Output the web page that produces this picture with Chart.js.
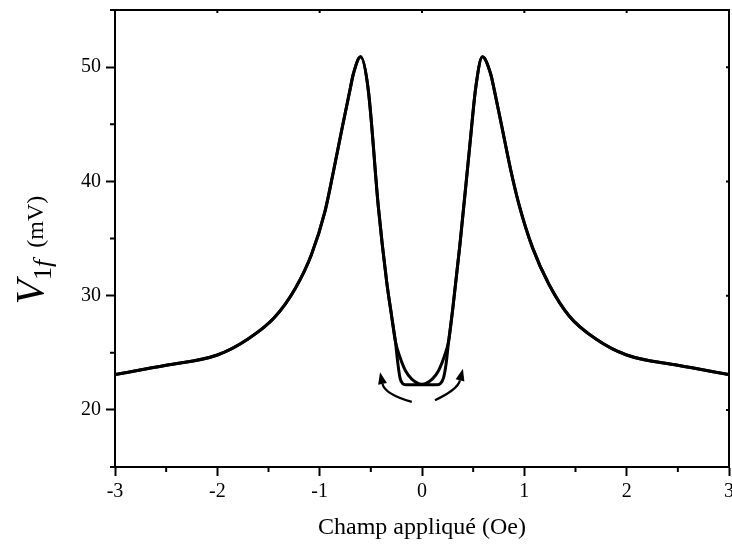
<!DOCTYPE html>
<html>
<head>
<meta charset="utf-8">
<script src="https://cdn.jsdelivr.net/npm/chart.js@4.4.1/dist/chart.umd.min.js"></script>
<style>
  html, body { margin: 0; padding: 0; background: #fff; }
  canvas { display: block; }
</style>
</head>
<body>
<canvas id="chart" width="732" height="554"></canvas>
<script>
// flanc gauche, commun aux deux branches
const leftX = [-3, -2.5, -2, -1.7, -1.44, -1.24, -1.08, -0.95, -0.867, -0.78, -0.704, -0.671, -0.6, -0.525, -0.427, -0.345, -0.3];
const leftY = [23.1, 23.9, 24.8, 26.2, 28.1, 30.6, 33.6, 37.3, 40.8, 44.7, 48.0, 49.4, 50.9, 48.0, 37.8, 31.2, 28.4];
// centre : branche a fond plat
const flatX = [-0.26, -0.235, -0.215, -0.19, -0.16, 0, 0.15, 0.18, 0.21, 0.235, 0.26];
const flatY = [26.0, 24.0, 22.8, 22.3, 22.2, 22.2, 22.2, 22.3, 22.8, 24.0, 26.0];
// centre : branche en V
const vX = [-0.26, -0.215, -0.16, -0.1, 0, 0.1, 0.16, 0.215, 0.26];
const vY = [26.0, 24.6, 23.4, 22.7, 22.25, 22.7, 23.4, 24.6, 26.0];
// flanc droit, commun aux deux branches
const rightX = [0.3, 0.371, 0.469, 0.525, 0.59, 0.671, 0.704, 0.78, 0.867, 0.95, 1.08, 1.24, 1.44, 1.7, 2, 2.5, 3];
const rightY = [28.8, 34.5, 43.3, 48.2, 50.9, 49.4, 48.1, 44.8, 41.0, 37.9, 34.2, 31.0, 28.2, 26.2, 24.8, 23.9, 23.1];

const xMajor = [-3, -2, -1, 0, 1, 2, 3];
const xMinor = [-2.5, -1.5, -0.5, 0.5, 1.5, 2.5];
const yMajor = [20, 30, 40, 50];
const yMinor = [15, 25, 35, 45, 55];

// fleches (depart, controle, pointe) en unites de donnees
const arrows = [
  [[-0.10, 20.7], [-0.365, 21.4], [-0.41, 23.3]],
  [[0.127, 20.85], [0.3485, 21.775], [0.40, 23.6]]
];

const toPoints = (xs, ys) => xs.map((x, i) => ({ x, y: ys[i] }));
const branchFlat = [...toPoints(leftX, leftY), ...toPoints(flatX, flatY), ...toPoints(rightX, rightY)];
const branchV = [...toPoints(leftX, leftY), ...toPoints(vX, vY), ...toPoints(rightX, rightY)];

const serif = 'Liberation Serif';

const extras = {
  id: 'extras',
  afterDatasetsDraw(chart) {
    const { ctx, scales: { x, y } } = chart;
    ctx.save();
    ctx.strokeStyle = '#000';
    ctx.fillStyle = '#000';
    ctx.lineWidth = 2.2;
    arrows.forEach(([t, c, h]) => {
      const p0 = [x.getPixelForValue(t[0]), y.getPixelForValue(t[1])];
      const p1 = [x.getPixelForValue(c[0]), y.getPixelForValue(c[1])];
      const p2 = [x.getPixelForValue(h[0]), y.getPixelForValue(h[1])];
      const ang = Math.atan2(p2[1] - p1[1], p2[0] - p1[0]);
      const len = 12, wid = 4.5;
      const bx = p2[0] - len * Math.cos(ang), by = p2[1] - len * Math.sin(ang);
      ctx.beginPath();
      ctx.moveTo(p0[0], p0[1]);
      ctx.quadraticCurveTo(p1[0], p1[1], bx, by);
      ctx.stroke();
      ctx.beginPath();
      ctx.moveTo(p2[0], p2[1]);
      ctx.lineTo(bx + wid * Math.sin(ang), by - wid * Math.cos(ang));
      ctx.lineTo(bx - wid * Math.sin(ang), by + wid * Math.cos(ang));
      ctx.closePath();
      ctx.fill();
    });
    ctx.restore();
  },
  afterDraw(chart) {
    const { ctx, chartArea: a, scales: { x, y } } = chart;
    ctx.save();
    ctx.strokeStyle = '#000';
    ctx.lineWidth = 2;
    ctx.beginPath();
    ctx.moveTo(a.left, a.top);
    ctx.lineTo(a.right, a.top);
    ctx.lineTo(a.right, a.bottom);
    // ticks mineurs
    xMinor.forEach(v => {
      const px = x.getPixelForValue(v);
      ctx.moveTo(px, a.bottom); ctx.lineTo(px, a.bottom + 5);
    });
    yMinor.forEach(v => {
      const py = y.getPixelForValue(v);
      ctx.moveTo(a.left, py); ctx.lineTo(a.left - 5, py);
    });
    // petits ticks interieurs haut / droite
    xMajor.forEach(v => {
      const px = x.getPixelForValue(v);
      ctx.moveTo(px, a.top); ctx.lineTo(px, a.top + 3);
    });
    yMajor.forEach(v => {
      const py = y.getPixelForValue(v);
      ctx.moveTo(a.right, py); ctx.lineTo(a.right - 3, py);
    });
    ctx.stroke();

    // titre de l'axe y : V_1f (mV)
    ctx.translate(43, 250);
    ctx.rotate(-Math.PI / 2);
    ctx.fillStyle = '#000';
    ctx.textBaseline = 'alphabetic';
    const parts = [
      { t: 'V', f: 'italic 40px ' + serif, dy: 0 },
      { t: '1', f: '26px ' + serif, dy: 8 },
      { t: 'f', f: 'italic 26px ' + serif, dy: 8 },
      { t: '  (mV)', f: '24px ' + serif, dy: 0 }
    ];
    let total = 0;
    parts.forEach(p => { ctx.font = p.f; p.w = ctx.measureText(p.t).width; total += p.w; });
    let cx = -total / 2;
    parts.forEach(p => { ctx.font = p.f; ctx.fillText(p.t, cx, p.dy); cx += p.w; });
    ctx.restore();
  }
};

new Chart(document.getElementById('chart'), {
  type: 'line',
  data: {
    datasets: [
      { data: branchFlat, borderColor: '#000', borderWidth: 3, pointRadius: 0, fill: false, cubicInterpolationMode: 'monotone' },
      { data: branchV, borderColor: '#000', borderWidth: 3, pointRadius: 0, fill: false, cubicInterpolationMode: 'monotone' }
    ]
  },
  options: {
    responsive: false,
    animation: false,
    devicePixelRatio: 1,
    layout: { padding: { top: 10, right: 3, left: 0, bottom: 0 } },
    plugins: { legend: { display: false }, tooltip: { enabled: false } },
    scales: {
      x: {
        type: 'linear',
        min: -3,
        max: 3,
        afterBuildTicks(s) { s.ticks = xMajor.map(v => ({ value: v })); },
        afterFit(s) { s.height = 87; s.paddingLeft = 0; s.paddingRight = 0; },
        ticks: { color: '#000', font: { family: serif, size: 20 }, padding: 4, maxRotation: 0, autoSkip: false },
        grid: { drawOnChartArea: false, drawTicks: true, tickLength: 9, tickWidth: 2, tickColor: '#000' },
        border: { color: '#000', width: 2 },
        title: { display: true, text: 'Champ appliqué (Oe)', color: '#000', font: { family: serif, size: 24 }, padding: { top: 0, bottom: 12 } }
      },
      y: {
        min: 15,
        max: 55,
        afterBuildTicks(s) { s.ticks = yMajor.map(v => ({ value: v })); },
        afterFit(s) { s.width = 115; s.paddingTop = 0; s.paddingBottom = 0; },
        ticks: { color: '#000', font: { family: serif, size: 20 }, padding: 5 },
        grid: { drawOnChartArea: false, drawTicks: true, tickLength: 9, tickWidth: 2, tickColor: '#000' },
        border: { color: '#000', width: 2 }
      }
    }
  },
  plugins: [extras]
});
</script>
</body>
</html>
